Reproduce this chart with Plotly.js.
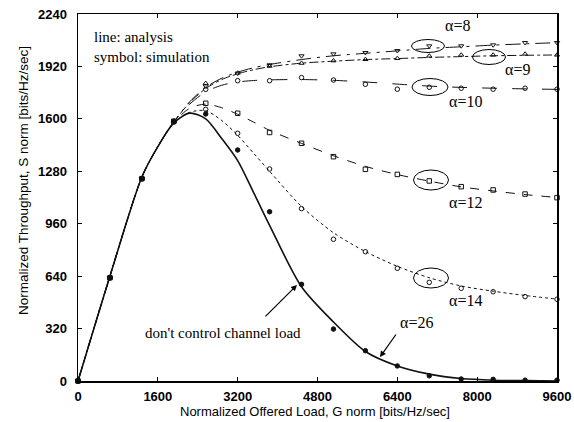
<!DOCTYPE html>
<html><head><meta charset="utf-8">
<script src="https://cdn.plot.ly/plotly-3.0.1.min.js"></script>
<style>html,body{margin:0;padding:0;background:#fff}#chart{width:574px;height:422px}</style>
</head><body><div id="chart"></div>
<script>
// Analysis (lines)
const G_line = [0,640,1280,1600,1920,2240,2560,2880,3200,3520,3840,4480,5120,5760,6400,7040,7680,8320,8960,9600];
const a26_line = [0,640,1245,1430,1575,1635,1600,1480,1345,1150,950,575,360,180,92,42,15,5,2,0];
const a14_line = [0,640,1245,1430,1578,1640,1650,1590,1500,1390,1280,1065,905,790,700,630,580,548,522,500];
const a12_line = [0,640,1245,1430,1578,1665,1690,1668,1628,1580,1530,1450,1375,1310,1260,1220,1185,1160,1138,1120];
const a10_line = [0,640,1245,1430,1580,1690,1765,1805,1825,1834,1838,1840,1835,1825,1812,1800,1792,1787,1783,1780];
const a9_line  = [0,640,1245,1430,1580,1700,1785,1840,1875,1900,1918,1940,1952,1962,1968,1975,1980,1985,1988,1990];
const a8_line  = [0,640,1245,1430,1580,1705,1792,1848,1885,1912,1932,1962,1985,2000,2015,2030,2040,2050,2058,2065];
// Simulation (symbols)
const G_sim = [0,640,1280,1920,2560,3200,3840,4480,5120,5760,6400,7040,7680,8320,8960,9600];
const a26_sim = [0,630,1235,1585,1630,1410,1033,590,317,185,92,32,12,10,5,5];
const a14_sim = [0,630,1235,1580,1658,1512,1294,1052,865,789,688,602,566,545,515,499];
const a12_sim = [0,630,1235,1585,1695,1634,1517,1451,1369,1292,1261,1221,1186,1166,1141,1119];
const a10_sim = [0,630,1235,1585,1780,1833,1833,1852,1837,1811,1781,1793,1787,1781,1787,1781];
const a9_sim  = [0,630,1235,1585,1817,1880,1922,1940,1955,1963,1969,1984,1990,1990,1996,1990];
const a8_sim  = [0,630,1235,1585,1800,1878,1929,1984,1996,2004,2016,2045,2045,2051,2065,2065];
const xTicks = [0,1600,3200,4800,6400,8000,9600];
const yTicks = [0,320,640,960,1280,1600,1920,2240];

const C = '#111';
function ln(y, dash, w){return {x:G_line,y:y,mode:'lines',line:{color:C,width:w||1,dash:dash,shape:'spline',smoothing:0.8},hoverinfo:'skip',cliponaxis:false};}
function sym(y, sym, sz){return {x:G_sim,y:y,mode:'markers',marker:{symbol:sym,size:sz||4,color:C,line:{color:C,width:1}},cliponaxis:false};}
const data = [
  ln(a26_line,'solid',1.6), ln(a14_line,'dot',1), ln(a12_line,'dash',1),
  ln(a10_line,'longdash',1), ln(a9_line,'dashdot',1), ln(a8_line,'longdashdot',1),
  sym(a26_sim,'circle',4.5), sym(a14_sim,'circle-open',4.5), sym(a12_sim,'square-open',4.5),
  sym(a10_sim,'circle-open',4.5), sym(a9_sim,'triangle-up-open',4.5), sym(a8_sim,'triangle-down-open',4.5)
];
const serif = {family:'Liberation Serif, Times New Roman, serif', size:15, color:'#000'};
const lab = {family:'Liberation Serif, Times New Roman, serif', size:16, color:'#000'};
function txt(x,y,t,f,anchor){return {x:x,y:y,xref:'x',yref:'y',text:t,showarrow:false,font:f,xanchor:anchor||'center',yanchor:'middle'};}
function arr(x,y,ax,ay){return {x:x,y:y,ax:ax,ay:ay,xref:'x',yref:'y',axref:'x',ayref:'y',text:'',showarrow:true,arrowhead:2,arrowsize:1,arrowwidth:1.2,arrowcolor:'#000'};}
function ell(cx,cy,w,h){const gx=(cx-78)*9600/479, gy=(381-cy)*2240/367, dx=w/2*9600/479, dy=h/2*2240/367;
  return {type:'circle',xref:'x',yref:'y',x0:gx-dx,x1:gx+dx,y0:gy-dy,y1:gy+dy,line:{color:'#000',width:1}};}
const tf = {family:'Liberation Sans, Arial, sans-serif',size:13,color:'#000',weight:'bold'};
const layout = {
  width:574,height:422,margin:{l:78,r:17,t:14,b:41},
  paper_bgcolor:'#fff',plot_bgcolor:'#fff',showlegend:false,
  xaxis:{range:[0,9600],tickvals:xTicks,ticktext:xTicks.map(String),ticks:'inside',ticklen:4,tickcolor:'#000',
    showline:true,linecolor:'#000',linewidth:1.5,mirror:'allticks',showgrid:false,zeroline:false,
    tickfont:tf,ticklabelstandoff:3},
  yaxis:{range:[0,2240],tickvals:yTicks,ticktext:yTicks.map(String),ticks:'inside',ticklen:4,tickcolor:'#000',
    showline:true,linecolor:'#000',linewidth:1.5,mirror:'allticks',showgrid:false,zeroline:false,
    tickfont:tf,ticklabelstandoff:7},
  annotations:[
    txt(281,2097,'line: analysis',serif,'left'),
    txt(281,1980,'symbol: simulation',serif,'left'),
    txt(2906,293,"don't control channel load",serif),
    arr(4389,586,3727,385),
    txt(6785,356,'α=26',lab),
    arr(6052,146,6393,293),
    txt(7615,2167,'α=8',lab),
    txt(8818,1904,'α=9',lab),
    txt(7775,1703,'α=10',lab),
    txt(7775,1087,'α=12',lab),
    txt(7775,494,'α=14',lab),
    {xref:'paper',yref:'paper',x:(315-78)/479,y:(381-411)/367,text:'Normalized Offered Load, G norm [bits/Hz/sec]',showarrow:false,
      font:{family:'Liberation Sans, Arial, sans-serif',size:13,color:'#000'},xanchor:'center',yanchor:'middle'},
    {xref:'paper',yref:'paper',x:(24-78)/479,y:(381-181)/367,text:'Normalized Throughput, S norm [bits/Hz/sec]',showarrow:false,textangle:-90,
      font:{family:'Liberation Sans, Arial, sans-serif',size:13.5,color:'#000'},xanchor:'center',yanchor:'middle'}
  ],
  shapes:[ell(428,46,33,13),ell(489,57,33,15),ell(430,87,36,17),ell(431,180,35,20),ell(431,278,35,20)]
};
Plotly.newPlot('chart',data,layout,{staticPlot:true,displayModeBar:false});
</script></body></html>
